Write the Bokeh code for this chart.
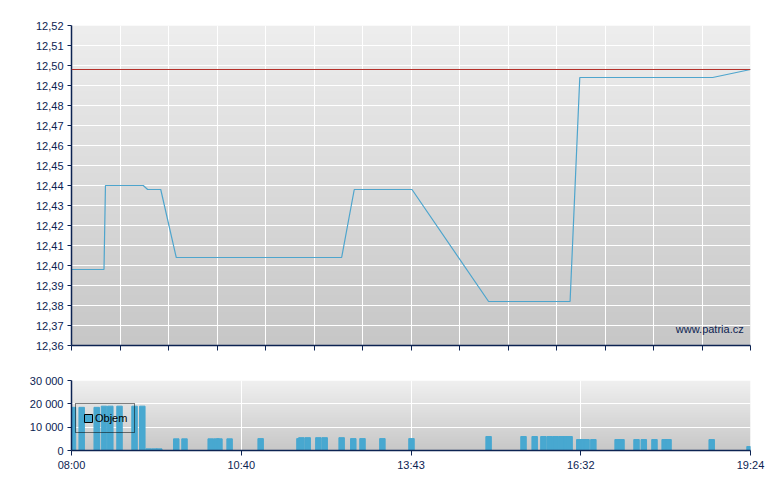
import numpy as np
from bokeh.plotting import figure
from bokeh.models import (Range1d, FixedTicker, CustomJSTickFormatter, Label, Legend,
                          LegendItem, Span, ColumnDataSource)
from bokeh.layouts import column
from bokeh.embed import file_html
from bokeh.resources import INLINE

# ---------------- data ----------------
# x positions are in "slot" units of the chart's index axis (0 = 08:00, 14 = 19:24)
price_x = [0, 0.67, 0.70, 1.48, 1.57, 1.84, 2.16, 5.57, 5.83, 7.02, 8.60, 10.28, 10.48, 13.22, 14.0]
price_y = [12.398, 12.398, 12.44, 12.44, 12.438, 12.438, 12.404, 12.404, 12.438, 12.438,
           12.382, 12.382, 12.494, 12.494, 12.498]
ref_price = 12.498

vol_x = [0.03, 0.21, 0.52, 0.67, 0.80, 0.99, 1.30, 1.46, 1.59, 1.71, 1.81,
         2.16, 2.33, 2.87, 2.99, 3.05, 3.26, 3.90,
         4.70, 4.74, 4.87, 5.09, 5.22, 5.57, 5.81, 6.00, 6.41, 7.01,
         8.60, 9.32, 9.55, 9.73, 9.86, 9.98, 10.10, 10.21, 10.27,
         10.47, 10.56, 10.62, 10.76, 11.26, 11.34, 11.65, 11.80, 12.02, 12.23, 12.31,
         13.20, 13.98]
vol_y = [18500, 18500, 18500, 19000, 19000, 19000, 19000, 19000, 700, 700, 700,
         5000, 5000, 5000, 5000, 5000, 5000, 5100,
         5100, 5500, 5500, 5500, 5500, 5500, 5100, 5100, 5100, 5100,
         6000, 6000, 6000, 6000, 6000, 6000, 6000, 6000, 6000,
         4700, 4700, 4700, 4700, 4700, 4700, 4700, 4700, 4700, 4700, 4700,
         4700, 1700]

price_ticks = [12.36, 12.37, 12.38, 12.39, 12.40, 12.41, 12.42, 12.43, 12.44,
               12.45, 12.46, 12.47, 12.48, 12.49, 12.50, 12.51, 12.52]
slot_ticks = list(range(0, 15))
time_ticks = [0, 3.5, 7, 10.5, 14]
time_labels = ["08:00", "10:40", "13:43", "16:32", "19:24"]
vol_ticks = [0, 10000, 20000, 30000]

# ---------------- style ----------------
NAVY = "#0c2352"
FONT = "Liberation Sans"
BAR = "#48a8d0"
LINE = "#4ea5cd"
RED = "#b5302a"


def gradient(n, top=238, bottom=199):
    g = np.linspace(bottom, top, n).astype(np.uint32)  # row 0 = bottom
    img = np.empty((n, 1), dtype=np.uint32)
    view = img.view(dtype=np.uint8).reshape((n, 1, 4))
    view[:, 0, 0] = g
    view[:, 0, 1] = g
    view[:, 0, 2] = g
    view[:, 0, 3] = 255
    return img


def style_axes(p):
    for ax in (p.xaxis[0], p.yaxis[0]):
        ax.axis_line_color = NAVY
        ax.axis_line_width = 1.5
        ax.major_tick_line_color = NAVY
        ax.major_tick_in = 0
        ax.minor_tick_line_color = None
        ax.major_label_text_color = NAVY
        ax.major_label_text_font = FONT
        ax.major_label_text_font_size = "11px"
    p.outline_line_color = None
    p.border_fill_color = "white"
    for g in (p.xgrid[0], p.ygrid[0]):
        g.grid_line_color = "white"
        g.grid_line_width = 1


# ---------------- price chart ----------------
p1 = figure(width=772, height=365, x_range=Range1d(0, 14), y_range=Range1d(12.36, 12.52),
            output_backend="svg", toolbar_location=None,
            min_border_left=71, min_border_right=22, min_border_top=25, min_border_bottom=20)
p1.image_rgba(image=[gradient(320)], x=0, y=12.36, dw=14, dh=0.16, level="image")
style_axes(p1)
p1.yaxis.ticker = FixedTicker(ticks=price_ticks)
p1.yaxis.formatter = CustomJSTickFormatter(code="return tick.toFixed(2).replace('.', ',');")
p1.yaxis.major_tick_out = 4
p1.yaxis.major_label_standoff = 4
p1.xaxis.ticker = FixedTicker(ticks=slot_ticks)
p1.xaxis.major_tick_out = 5
p1.xaxis.formatter = CustomJSTickFormatter(code="return '';")
p1.xaxis.major_label_text_font_size = "0px"
p1.xgrid.ticker = FixedTicker(ticks=slot_ticks)
p1.ygrid.ticker = FixedTicker(ticks=price_ticks)

p1.add_layout(Span(location=ref_price, dimension="width", line_color=RED, line_width=1))
p1.line(price_x, price_y, line_color=LINE, line_width=1.2)
p1.add_layout(Label(x=13.86, y=12.3685, text="www.patria.cz", text_align="right",
                    text_baseline="alphabetic", text_font=FONT, text_font_size="11px",
                    text_color=NAVY))

# ---------------- volume chart ----------------
p2 = figure(width=772, height=110, x_range=Range1d(0, 14), y_range=Range1d(0, 30000),
            output_backend="svg", toolbar_location=None,
            min_border_left=71, min_border_right=22, min_border_top=15, min_border_bottom=25)
p2.image_rgba(image=[gradient(70, 240, 200)], x=0, y=0, dw=14, dh=30000, level="image")
style_axes(p2)
p2.yaxis.ticker = FixedTicker(ticks=vol_ticks)
p2.yaxis.formatter = CustomJSTickFormatter(
    code="return tick == 0 ? '0' : (tick / 1000).toFixed(0) + ' 000';")
p2.yaxis.major_tick_out = 4
p2.yaxis.major_label_standoff = 4
p2.xaxis.ticker = FixedTicker(ticks=time_ticks)
p2.xaxis.major_label_overrides = {t: l for t, l in zip(time_ticks, time_labels)}
p2.xaxis.major_tick_out = 5
p2.xaxis.major_label_standoff = 3
p2.xgrid.ticker = FixedTicker(ticks=time_ticks)
p2.ygrid.ticker = FixedTicker(ticks=vol_ticks)

bars = p2.vbar(x=vol_x, top=vol_y, bottom=0, width=0.113, fill_color=BAR,
               line_color=BAR, line_width=1)
# legend-only glyph (no visible data point) so the key gets a black outline
nan = float("nan")
legend_src = ColumnDataSource(dict(l=[nan], r=[nan], t=[nan], b=[nan]))
leg_glyph = p2.quad(left="l", right="r", top="t", bottom="b", source=legend_src,
                    fill_color=BAR, line_color="black", line_width=1)
legend = Legend(items=[LegendItem(label="Objem", renderers=[leg_glyph])],
                location=(4, 17), margin=0, padding=7, spacing=0,
                glyph_width=10, glyph_height=10, label_height=14, label_standoff=2,
                label_text_font=FONT, label_text_font_size="11px", label_text_color="black",
                border_line_color="black", border_line_width=1, background_fill_alpha=0)
p2.add_layout(legend)

layout = column(p1, p2, spacing=0)
open("out.html", "w").write(file_html(layout, INLINE))
